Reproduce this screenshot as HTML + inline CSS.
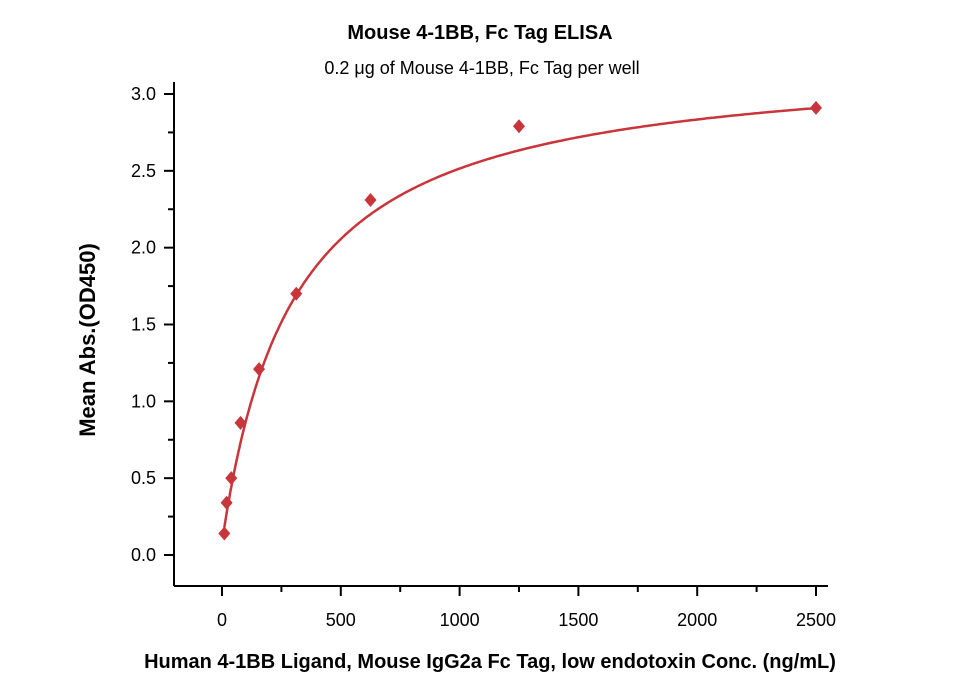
<!DOCTYPE html>
<html><head><meta charset="utf-8"><style>
body{margin:0;background:#fff;}
svg{display:block;font-family:"Liberation Sans",sans-serif;}
</style></head><body>
<svg id="chart" width="959" height="685" viewBox="0 0 959 685">
<text x="480" y="39" text-anchor="middle" font-size="20" font-weight="bold">Mouse 4-1BB, Fc Tag ELISA</text>
<text x="482" y="74" text-anchor="middle" font-size="18">0.2 μg of Mouse 4-1BB, Fc Tag per well</text>
<text x="490" y="668" text-anchor="middle" font-size="20" font-weight="bold">Human 4-1BB Ligand, Mouse IgG2a Fc Tag, low endotoxin Conc. (ng/mL)</text>
<text transform="translate(95,340) rotate(-90)" text-anchor="middle" font-size="22" font-weight="bold">Mean Abs.(OD450)</text>
<g id="axes"></g>
<g id="marks"></g>
</svg>
<script>
const concentrations=[9.77,19.5,39,78,156,312.5,625,1250,2500];
const absorbances=[0.14,0.34,0.50,0.86,1.21,1.70,2.31,2.79,2.91];
const xTicks=[0,500,1000,1500,2000,2500];
const yTicks=[0.0,0.5,1.0,1.5,2.0,2.5,3.0];
const fitParams=[0.08,3.25,302,1.0];
const NS="http://www.w3.org/2000/svg";
const X=v=>222+v*(816-222)/2500;
const Y=v=>555-v*(555-94)/3;
function mk(tag,attrs,parent){const e=document.createElementNS(NS,tag);for(const k in attrs)e.setAttribute(k,attrs[k]);parent.appendChild(e);return e;}
const ax=document.getElementById('axes'),mg=document.getElementById('marks');
let e=mk('line',{x1:174,y1:586,x2:828,y2:586,stroke:'#000','stroke-width':2},ax);


e=mk('line',{x1:174,y1:586,x2:174,y2:82,stroke:'#000','stroke-width':2},ax);


xTicks.forEach((t,i)=>{
 let l=mk('line',{x1:X(t),y1:586,x2:X(t),y2:596,stroke:'#000','stroke-width':2},ax);
 
 
 if(i<xTicks.length-1){let m=mk('line',{x1:X(t+250),y1:586,x2:X(t+250),y2:592,stroke:'#000','stroke-width':2},ax);
 
 }
 let tx=mk('text',{x:X(t),y:626,'text-anchor':'middle','font-size':18},ax);tx.textContent=t;
 
 
});
yTicks.forEach(t=>{
 let l=mk('line',{x1:164,y1:Y(t),x2:174,y2:Y(t),stroke:'#000','stroke-width':2},ax);
 
 
 if(t<3){let m=mk('line',{x1:168,y1:Y(t+0.25),x2:174,y2:Y(t+0.25),stroke:'#000','stroke-width':2},ax);
 
 }
 let tx=mk('text',{x:156,y:Y(t)+6,'text-anchor':'end','font-size':18},ax);tx.textContent=t.toFixed(1);
 
 
});
const [b,tp,ec,n]=fitParams;
let d='';
for(let i=0;i<=400;i++){const x=concentrations[0]+(2500-concentrations[0])*Math.pow(i/400,2);const y=b+(tp-b)*Math.pow(x,n)/(Math.pow(ec,n)+Math.pow(x,n));d+=(i?'L':'M')+X(x).toFixed(1)+','+Y(y).toFixed(1);}
const p=mk('path',{d:d,fill:'none',stroke:'#c8353a','stroke-width':2.5},mg);


concentrations.forEach((c,i)=>{
 const cx=X(c),cy=Y(absorbances[i]);
 const r=mk('polygon',{points:`${cx},${cy-7} ${cx+6},${cy} ${cx},${cy+7} ${cx-6},${cy}`,fill:'#c8353a'},mg);
 
 
});
</script>
</body></html>
